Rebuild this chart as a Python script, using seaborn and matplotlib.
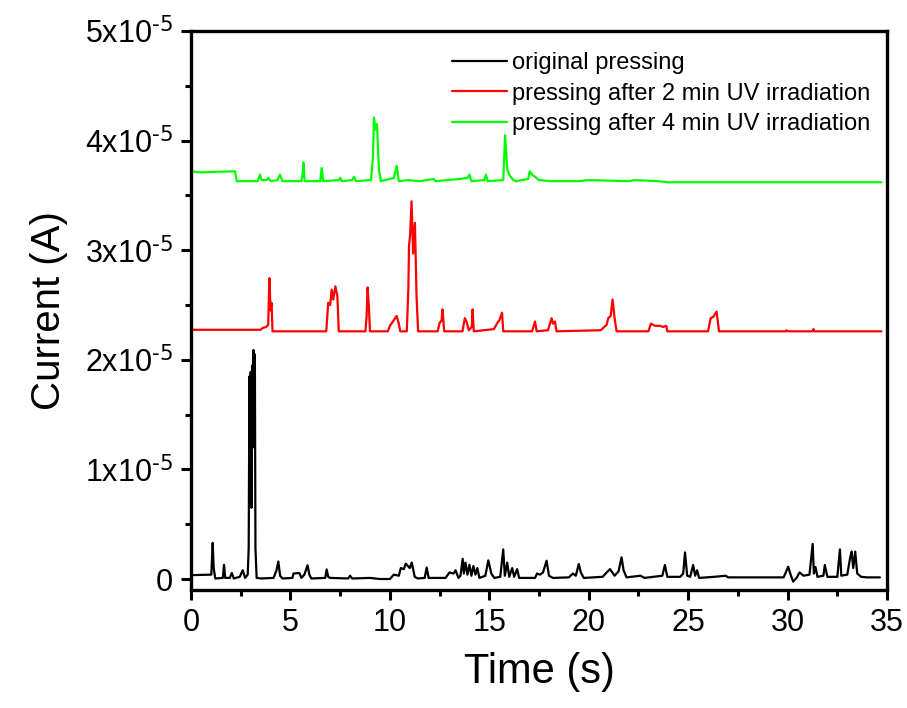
import matplotlib
matplotlib.use("Agg")
import matplotlib.pyplot as plt
import seaborn as sns
import pandas as pd
from matplotlib.ticker import MultipleLocator

# current values are in uA (1e-6 A), time in s
orig_t = [0.0, 0.95, 1.02, 1.09, 1.14, 1.22, 1.6, 1.66, 1.72, 1.95, 2.05, 2.15, 2.45, 2.6, 2.72,
          2.85, 2.9, 2.94, 2.98, 3.0, 3.04, 3.08, 3.11, 3.14, 3.18, 3.21, 3.24, 3.3, 3.5,
          4.15, 4.3, 4.39, 4.48, 4.6, 5.1, 5.15, 5.45, 5.55, 5.7, 5.86, 5.95, 6.05, 6.75, 6.82,
          6.9, 7.0, 7.9, 8.0, 8.1, 9.0, 9.5, 10.0, 10.2, 10.45, 10.55, 10.7, 10.8, 11.0, 11.1,
          11.25, 11.4, 11.75, 11.85, 11.95, 12.8, 13.0, 13.2, 13.3, 13.45, 13.55, 13.66, 13.72,
          13.8, 13.9, 14.0, 14.1, 14.2, 14.3, 14.4, 14.5, 14.8, 14.95, 15.1, 15.25, 15.55, 15.7,
          15.78, 15.9, 16.0, 16.15, 16.25, 16.4, 16.5, 17.3, 17.4, 17.55, 17.7, 17.88, 18.0, 18.2,
          19.0, 19.2, 19.35, 19.5, 19.6, 19.75, 20.7, 20.9, 21.07, 21.3, 21.5, 21.65, 21.75, 21.9,
          22.6, 22.8, 23.7, 23.83, 23.95, 24.6, 24.75, 24.84, 24.95, 25.1, 25.25, 25.35, 25.45,
          25.55, 26.3, 26.9, 27.0, 29.8, 30.03, 30.15, 30.28, 30.45, 30.6, 30.8, 31.1, 31.26,
          31.32, 31.4, 31.5, 31.8, 31.87, 32.0, 32.5, 32.63, 32.7, 33.0, 33.15, 33.22, 33.3, 33.4,
          33.5, 33.7, 34.0, 34.64]
orig_i = [0.35, 0.4, 0.4, 3.3, 1.0, 0.05, 0.1, 1.3, 0.1, 0.1, 0.55, 0.05, 0.2, 0.8, 0.1,
          0.4, 2.8, 18.5, 10.0, 18.9, 6.5, 19.5, 12.0, 20.9, 14.0, 20.5, 2.8, 0.1, 0.05,
          0.1, 0.8, 1.6, 0.3, 0.05, 0.1, 0.5, 0.55, 0.1, 0.4, 1.25, 0.4, 0.05, 0.1, 0.87,
          0.2, 0.1, 0.05, 0.3, 0.05, 0.1, 0.0, 0.0, 0.4, 0.3, 1.0, 0.9, 1.4, 1.0, 1.5,
          0.2, 0.05, 0.1, 1.05, 0.1, 0.1, 0.6, 0.5, 0.8, 0.1, 0.3, 1.85, 0.5,
          1.5, 0.4, 1.3, 0.3, 1.2, 0.4, 1.0, 0.1, 0.3, 1.7, 0.5, 0.1, 0.2, 2.7,
          0.3, 1.5, 0.2, 1.0, 0.2, 0.9, 0.1, 0.1, 0.5, 0.4, 0.6, 1.67, 0.3, 0.1,
          0.15, 0.5, 0.3, 1.37, 0.6, 0.1, 0.2, 0.6, 0.9, 0.3, 0.7, 1.98, 0.8, 0.15,
          0.3, 0.1, 0.3, 1.28, 0.2, 0.2, 0.5, 2.43, 0.3, 0.2, 1.28, 0.3, 0.8,
          0.1, 0.2, 0.3, 0.15, 0.15, 1.12, 0.4, -0.24, 0.1, 0.6, 0.3, 0.4, 3.2,
          0.5, 1.1, 0.2, 0.3, 1.28, 0.2, 0.2, 2.7, 0.3, 0.4, 2.0, 2.5, 1.0, 2.5,
          0.5, 0.2, 0.15, 0.15]

uv2_t = [0.0, 3.5, 3.6, 3.78, 3.88, 3.94, 4.0, 4.05, 4.1, 6.8, 6.9, 7.0, 7.07, 7.15, 7.26,
         7.36, 7.43, 8.77, 8.83, 8.88, 8.95, 9.0, 9.9, 10.0, 10.1, 10.34, 10.45, 10.52, 10.85,
         10.93, 10.96, 11.02, 11.09, 11.17, 11.26, 11.34, 11.42, 12.4, 12.5, 12.6, 12.65, 12.73,
         13.65, 13.77, 13.85, 13.97, 14.12, 14.16, 14.22, 15.23, 15.4, 15.5, 15.64, 15.7, 17.15,
         17.3, 17.38, 17.95, 18.05, 18.13, 18.2, 18.3, 18.38, 20.6, 20.9, 20.98, 21.1, 21.2,
         21.3, 21.4, 23.0, 23.13, 23.33, 23.6, 23.73, 23.9, 23.95, 26.0, 26.13, 26.25, 26.43,
         26.55, 29.9, 29.95, 30.0, 31.25, 31.3, 31.35, 34.72]
uv2_i = [22.74, 22.74, 22.9, 23.0, 23.2, 27.46, 24.5, 25.2, 22.6, 22.6, 25.2, 25.0, 26.4, 25.5, 26.7,
         25.8, 22.6, 22.6, 24.0, 26.6, 24.6, 22.6, 22.6, 23.1, 23.35, 24.0, 23.3, 22.6, 22.6,
         26.5, 30.35, 31.5, 34.46, 29.7, 32.5, 25.8, 22.6, 22.6, 23.35, 23.6, 24.6, 22.6,
         22.6, 23.8, 23.5, 22.7, 23.0, 24.6, 22.6, 22.8, 23.35, 23.6, 24.3, 22.6, 22.6,
         23.5, 22.6, 22.7, 23.3, 23.8, 23.3, 23.5, 22.6, 22.7, 23.2, 23.8, 24.0, 25.5,
         23.8, 22.6, 22.6, 23.3, 23.1, 23.1, 23.0, 23.1, 22.6, 22.6, 23.8, 23.9, 24.4,
         22.6, 22.6, 22.7, 22.6, 22.6, 22.8, 22.6, 22.6]

uv4_t = [0.0, 0.5, 1.2, 2.21, 2.3, 3.35, 3.47, 3.55, 3.8, 3.9, 4.0, 4.35, 4.47, 4.6, 5.55,
         5.62, 5.65, 5.72, 6.5, 6.57, 6.65, 7.45, 7.5, 7.6, 8.1, 8.2, 8.3, 9.05, 9.15, 9.2,
         9.28, 9.35, 9.45, 9.55, 10.2, 10.34, 10.45, 10.9, 11.5, 12.2, 12.3, 13.5, 13.9, 14.0,
         14.1, 14.75, 14.83, 14.92, 15.7, 15.75, 15.79, 15.85, 15.9, 16.0, 16.2, 16.35, 16.95,
         17.04, 17.15, 17.3, 17.5, 18.1, 19.5, 20.0, 22.0, 22.3, 23.5, 24.0, 34.72]
uv4_i = [37.2, 37.1, 37.15, 37.2, 36.3, 36.3, 36.9, 36.4, 36.4, 36.6, 36.3, 36.4, 36.9, 36.3, 36.3,
         37.0, 38.0, 36.3, 36.3, 37.5, 36.3, 36.4, 36.6, 36.3, 36.4, 36.7, 36.3, 36.4, 38.5, 42.1,
         41.0, 41.5, 37.3, 36.3, 36.6, 37.7, 36.3, 36.4, 36.3, 36.5, 36.3, 36.5, 36.6, 36.9,
         36.3, 36.4, 36.9, 36.3, 36.4, 38.5, 40.5, 39.0, 37.4, 36.9, 36.4, 36.3, 36.5,
         37.2, 36.9, 36.7, 36.4, 36.3, 36.3, 36.4, 36.3, 36.4, 36.3, 36.2, 36.2]

labels = ["original pressing", "pressing after 2 min UV irradiation",
          "pressing after 4 min UV irradiation"]
colors = ["black", "#ff0000", "#00ff00"]

sns.set_style("ticks")
plt.rcParams["font.family"] = ["Liberation Sans", "DejaVu Sans"]
plt.rcParams["mathtext.default"] = "regular"
plt.rcParams["text.color"] = "black"
plt.rcParams["axes.labelcolor"] = "black"
plt.rcParams["xtick.color"] = "black"
plt.rcParams["ytick.color"] = "black"
plt.rcParams["axes.edgecolor"] = "black"

fig = plt.figure(figsize=(9.07, 7.08), dpi=100)
ax = fig.add_axes([0.2106, 0.1667, 0.7674, 0.7895])

for t, i, lab, c in zip([orig_t, uv2_t, uv4_t], [orig_i, uv2_i, uv4_i], labels, colors):
    df = pd.DataFrame({"t": t, "I": [v * 1e-6 for v in i]})
    sns.lineplot(data=df, x="t", y="I", ax=ax, color=c, lw=1.6, label=lab,
                 sort=False, estimator=None)

ax.set_xlim(0, 35)
ax.set_ylim(-1e-6, 5e-5)
ax.xaxis.set_major_locator(MultipleLocator(5))
ax.xaxis.set_minor_locator(MultipleLocator(2.5))
yt = [0, 1e-5, 2e-5, 3e-5, 4e-5, 5e-5]
ax.set_yticks(yt)
ax.set_yticklabels(["0"] + [f"{k}x10$^{{\\text{{-5}}}}$" for k in range(1, 6)])
ax.yaxis.set_minor_locator(MultipleLocator(0.5e-5))
ax.tick_params(which="major", length=7, width=2.2, labelsize=22, direction="out", pad=6)
ax.tick_params(which="minor", length=4, width=2.2, direction="out")
for s in ax.spines.values():
    s.set_linewidth(2.4)
    s.set_visible(True)

ax.set_xlabel("Time (s)", fontsize=30, labelpad=10)
ax.set_ylabel("Current (A)", fontsize=29, labelpad=12)

ax.legend(loc="upper right", bbox_to_anchor=(1.007, 1.0), frameon=False, fontsize=17,
          handlelength=2.3, handletextpad=0.25, labelspacing=0.35)

fig.savefig("out.png", dpi=100)
